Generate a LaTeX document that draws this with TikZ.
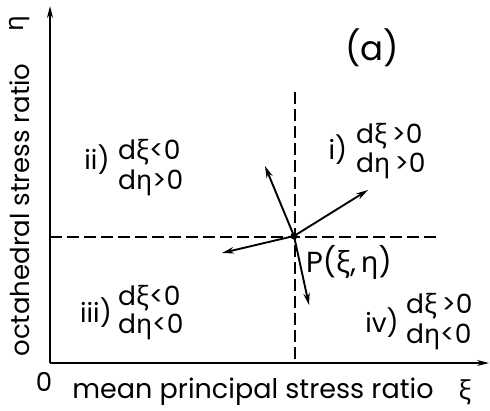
\documentclass[tikz,border=0pt]{standalone}
\usepackage{fontspec}
\setmainfont{Poppins}
\newfontfamily\gk{Noto Sans}
\newcommand{\gxi}{{\gk ξ}}
\newcommand{\geta}{{\gk η}}
\usetikzlibrary{arrows.meta}
\begin{document}
\begin{tikzpicture}[x=1pt,y=-1pt,
  axis/.style={line width=1.6pt,-{Stealth[length=12pt,width=6pt]}},
  guide/.style={line width=1.4pt,dash pattern=on 12pt off 5pt},
  vec/.style={line width=1.9pt,-{Stealth[length=12pt,width=6.5pt]}},
  lab/.style={inner sep=0pt,font=\fontsize{26.5}{28}\selectfont},
  big/.style={inner sep=0pt,font=\fontsize{26}{28}\selectfont}]
\useasboundingbox (0,0) rectangle (490,410);
\coordinate (O) at (50,363);
\coordinate (ytip) at (50,6);
\coordinate (xtip) at (489,363);
\draw[axis] (O) -- (ytip);
\draw[axis] (O) -- (xtip);
\coordinate (hl) at (50,237);
\coordinate (hr) at (436,237);
\coordinate (vt) at (295,92);
\coordinate (vb) at (295,363);
\draw[guide] (hl) -- (hr);
\draw[guide] (vt) -- (vb);
\node[circle,fill,inner sep=0pt,minimum size=7pt] (P) at (294,236) {};
\coordinate (a1) at (368,190);
\coordinate (a2) at (265,166);
\coordinate (a3) at (222,253);
\coordinate (a4) at (309,305);
\draw[vec] (P.center) -- (a1);
\draw[vec] (P.center) -- (a2);
\draw[vec] (P.center) -- (a3);
\draw[vec] (P.center) -- (a4);
% title
\node[inner sep=0pt,font=\fontsize{34}{36}\selectfont] (title) at (372,48) {(a)};
% quadrant i
\node[lab] (q1) at (338,150) {i)};
\node[lab,anchor=west] (q1a) at (356,136) {d\gxi\,>0};
\node[lab,anchor=west] (q1b) at (356,166) {d\geta\,>0};
% quadrant ii
\node[lab] (q2) at (97,160) {ii)};
\node[lab,anchor=west] (q2a) at (118,152) {d\gxi<0};
\node[lab,anchor=west] (q2b) at (118,183) {d\geta>0};
% quadrant iii
\node[lab] (q3) at (96,313) {iii)};
\node[lab,anchor=west] (q3a) at (118,298) {d\gxi<0};
\node[lab,anchor=west] (q3b) at (118,327) {d\geta<0};
% quadrant iv
\node[lab] (q4) at (382,323) {iv)};
\node[lab,anchor=west] (q4a) at (406,306) {d\gxi\,>0};
\node[lab,anchor=west] (q4b) at (406,337) {d\geta<0};
% point label
\node[lab,font=\fontsize{29}{30}\selectfont,anchor=west] (Pl) at (306,262) {P(\gxi,\,\geta)};
% axis labels
\node[big,rotate=90] (ylab) at (20,210) {octahedral stress ratio};
\node[big,rotate=90] (yeta) at (20,24) {\geta};
\node[big] (zero) at (44,382) {0};
\node[big,font=\fontsize{27}{28}\selectfont] (xlab) at (253,392) {mean principal stress ratio};
\node[big] (xxi) at (465,392) {\gxi};
\end{tikzpicture}
\end{document}
